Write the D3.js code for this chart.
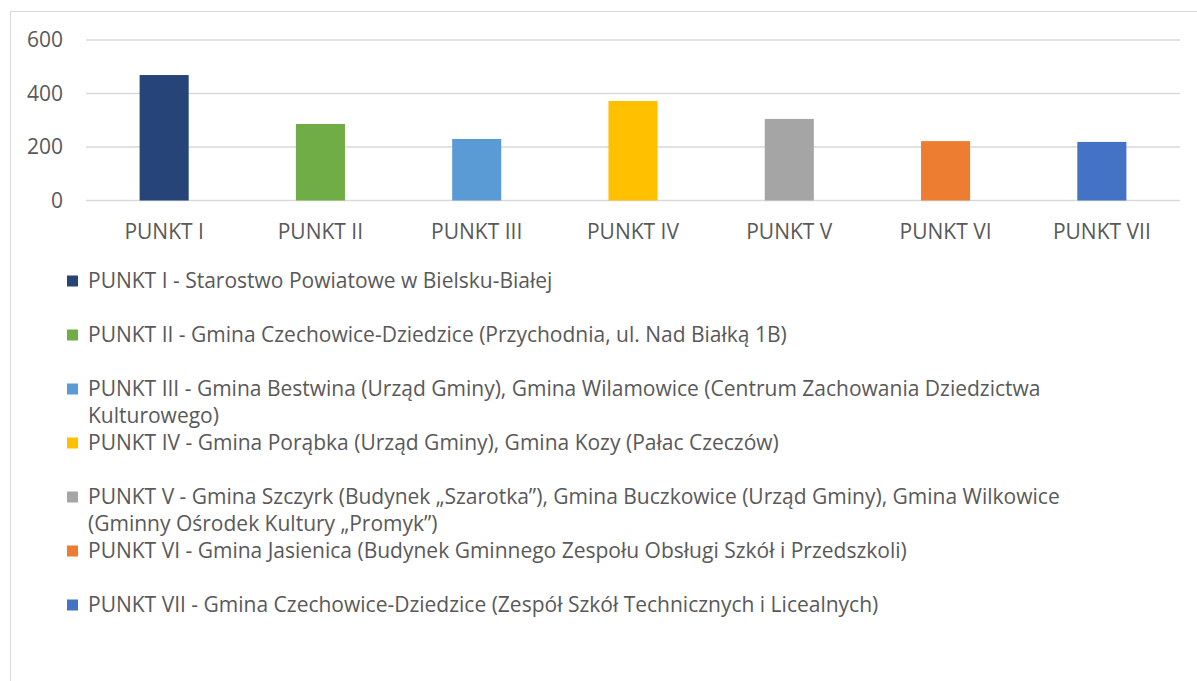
<!DOCTYPE html>
<html><head><meta charset="utf-8">
<script src="https://cdn.jsdelivr.net/npm/d3@7"></script>
<style>body{margin:0;background:#fff;}svg{display:block;font-family:"Open Sans",sans-serif;}</style>
</head><body><svg id="c" width="1197" height="681"></svg>
<script>
const categories = ["PUNKT I","PUNKT II","PUNKT III","PUNKT IV","PUNKT V","PUNKT VI","PUNKT VII"];
const values = [469, 286, 230, 372, 305, 222, 219];
const colors = ["#264478","#70AD47","#5B9BD5","#FFC000","#A5A5A5","#ED7D31","#4472C4"];
const yTicks = [0, 200, 400, 600];
const legendLabels = [
  ["PUNKT I - Starostwo Powiatowe w Bielsku-Białej"],
  ["PUNKT II - Gmina Czechowice-Dziedzice (Przychodnia, ul. Nad Białką 1B)"],
  ["PUNKT III - Gmina Bestwina (Urząd Gminy), Gmina Wilamowice (Centrum Zachowania Dziedzictwa", "Kulturowego)"],
  ["PUNKT IV - Gmina Porąbka (Urząd Gminy), Gmina Kozy (Pałac Czeczów)"],
  ["PUNKT V - Gmina Szczyrk (Budynek „Szarotka”), Gmina Buczkowice (Urząd Gminy), Gmina Wilkowice", "(Gminny Ośrodek Kultury „Promyk”)"],
  ["PUNKT VI - Gmina Jasienica (Budynek Gminnego Zespołu Obsługi Szkół i Przedszkoli)"],
  ["PUNKT VII - Gmina Czechowice-Dziedzice (Zespół Szkół Technicznych i Licealnych)"]
];

const svg = d3.select("#c");
const textColor = "#595959";
const fontSize = 21;

// chart border
svg.append("rect").attr("x",10.5).attr("y",11.5).attr("width",1200).attr("height",700)
  .attr("fill","none").attr("stroke","#d9d9d9").attr("stroke-width",1);

const x = d3.scaleBand().domain(categories).range([86,1180]).paddingInner(0.686).paddingOuter(0.343);
const y = d3.scaleLinear().domain([0,600]).range([200.5,40]);

// gridlines
svg.append("g").selectAll("line").data(yTicks).join("line")
  .attr("x1",86).attr("x2",1180)
  .attr("y1",d=>y(d)).attr("y2",d=>y(d))
  .attr("stroke","#d9d9d9").attr("stroke-width",1.5);

// y axis labels
const yAxis = d3.axisLeft(y).tickValues(yTicks).tickSize(0).tickPadding(0);
const yg = svg.append("g").attr("transform","translate(63,0)").call(yAxis);
yg.select(".domain").remove();
yg.selectAll("text").attr("fill",textColor).attr("font-size",fontSize).attr("font-family","Open Sans");

// bars
svg.append("g").selectAll("rect").data(values).join("rect")
  .attr("x",(d,i)=>x(categories[i]))
  .attr("width",x.bandwidth())
  .attr("y",d=>y(d))
  .attr("height",d=>y(0)-y(d))
  .attr("fill",(d,i)=>colors[i]);

// x axis labels
const xAxis = d3.axisBottom(x).tickSize(0).tickPadding(0);
const xg = svg.append("g").attr("transform","translate(0,224.5)").call(xAxis);
xg.select(".domain").remove();
xg.selectAll("text").attr("fill",textColor).attr("font-size",fontSize).attr("font-family","Open Sans");

// legend
const lineH = 27;
let cy = 281;
legendLabels.forEach((lines,i)=>{
  const g = svg.append("g");
  g.append("rect").attr("x",67).attr("y",cy-5.5).attr("width",11).attr("height",11).attr("fill",colors[i]);
  lines.forEach((ln,j)=>{
    g.append("text").attr("x",88).attr("y",cy + j*lineH).attr("dy","0.35em")
      .attr("fill",textColor).attr("font-size",fontSize).text(ln);
  });
  cy += Math.max(2, lines.length)*lineH;
});
</script></body></html>
